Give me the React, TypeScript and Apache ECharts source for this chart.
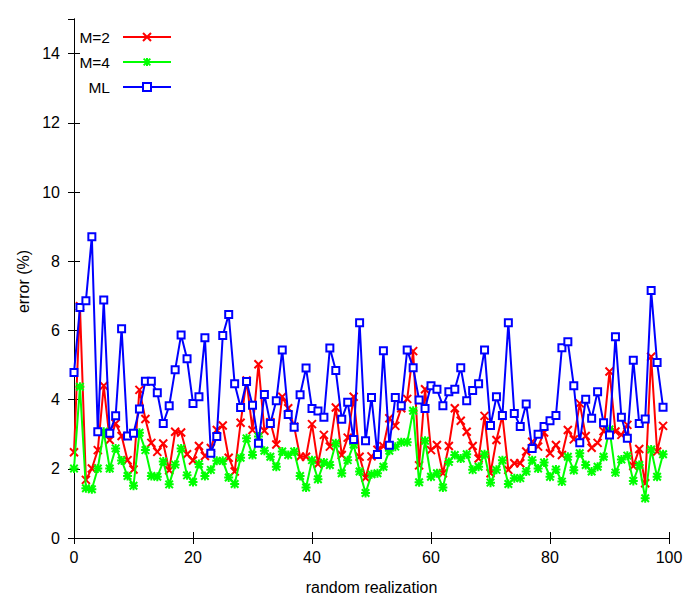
import React, { useEffect, useRef } from "react";
import * as echarts from "echarts";

const seriesNames = ["M=2", "M=4", "ML"];

const m2Values = [
  2.48, 6.7, 1.68, 2.01, 2.54, 4.4, 2.83, 3.31, 2.95, 2.25,
  1.98, 4.28, 3.44, 2.75, 2.49, 2.73, 1.96, 3.07, 3.05, 2.42,
  2.24, 2.66, 2.37, 2.6, 3.12, 3.25, 2.32, 1.92, 3.33, 4.55,
  3.12, 5.02, 3.1, 3.35, 2.7, 4.08, 3.75, 3.22, 2.35, 2.35,
  3.29, 2.14, 2.98, 2.64, 3.77, 2.4, 2.9, 4.08, 2.35, 1.74,
  2.36, 2.55, 2.65, 3.46, 3.24, 3.75, 4.02, 5.4, 2.1, 4.3,
  2.54, 2.69, 1.87, 2.66, 3.75, 3.39, 3.07, 2.66, 2.3, 3.53,
  1.87, 2.83, 3.53, 1.97, 2.16, 2.16, 2.5, 2.78, 2.64, 3.05,
  2.45, 2.69, 2.4, 3.12, 2.85, 3.89, 2.95, 2.61, 2.75, 3.09,
  4.81, 3.08, 2.98, 3.27, 2.08, 2.57, 1.58, 5.24, 2.5, 3.24,
];

const m4Values = [
  2.01, 4.37, 1.44, 1.41, 2.01, 3.07, 2.01, 2.59, 2.24, 1.79,
  1.51, 3.04, 2.54, 1.79, 1.77, 2.21, 1.55, 2.12, 2.59, 1.81,
  1.62, 2.14, 1.79, 1.97, 2.23, 2.23, 1.75, 1.56, 2.32, 2.88,
  2.4, 2.93, 2.52, 2.35, 2.06, 2.5, 2.4, 2.5, 1.79, 1.46,
  2.25, 1.7, 2.18, 2.11, 2.74, 1.87, 2.25, 2.7, 1.92, 1.3,
  1.84, 1.87, 2.06, 2.52, 2.64, 2.77, 2.77, 3.68, 1.61, 2.81,
  1.77, 1.87, 1.46, 2.2, 2.4, 2.3, 2.42, 1.97, 2.06, 2.42,
  1.6, 1.97, 2.25, 1.56, 1.73, 1.73, 1.92, 2.25, 2.01, 2.18,
  1.77, 1.98, 1.63, 2.35, 1.96, 2.45, 2.11, 1.92, 2.06, 2.35,
  3.14, 1.89, 2.27, 2.38, 1.65, 2.11, 1.15, 2.56, 1.77, 2.42,
];

const mlValues = [
  4.78, 6.66, 6.86, 8.71, 3.07, 6.88, 3.03, 3.53, 6.05, 2.95,
  3.03, 3.73, 4.53, 4.53, 4.2, 3.31, 3.82, 4.86, 5.87, 5.18,
  3.89, 4.08, 5.79, 2.45, 2.93, 5.85, 6.46, 4.46, 3.77, 4.52,
  3.84, 2.74, 4.15, 3.31, 3.97, 5.43, 3.57, 3.2, 4.14, 4.91,
  3.74, 3.67, 3.49, 5.49, 4.84, 3.43, 3.92, 2.85, 6.22, 2.81,
  4.06, 2.41, 5.41, 2.68, 4.06, 3.82, 5.43, 4.92, 3.99, 3.74,
  4.4, 4.3, 3.82, 4.23, 4.3, 4.92, 3.97, 4.26, 4.46, 5.43,
  3.25, 4.08, 3.54, 6.22, 3.6, 3.22, 3.87, 2.59, 3.0, 3.22,
  3.39, 3.54, 5.5, 5.67, 4.4, 2.75, 4.01, 3.46, 4.23, 3.33,
  2.98, 5.82, 3.49, 2.88, 5.14, 3.31, 3.44, 7.15, 5.07, 3.78,
];

const xTicks = { min: 0, max: 100, interval: 20 };
const yTicks = { min: 0, max: 15, interval: 2 };

const FONT = "'Liberation Sans', Arial, sans-serif";
const CROSS = "path://M0,0L10,10M10,0L0,10";
const STAR = "path://M0,0L10,10M10,0L0,10M5,-1L5,11M-1,5L11,5";

const toPairs = (vals: number[]) => vals.map((v, i) => [i, v]);

export default function App() {
  const ref = useRef<HTMLDivElement>(null);

  useEffect(() => {
    document.body.style.margin = "0";
    if (!ref.current) return;
    const chart = echarts.init(ref.current, null, { renderer: "svg" });

    const axisLine = { show: true, lineStyle: { color: "#000", width: 1 } };
    const axisTick = { show: true, inside: true, length: 6, lineStyle: { color: "#000", width: 1 } };
    const labelStyle = { fontSize: 16, color: "#000", fontFamily: FONT };

    chart.setOption({
      animation: false,
      backgroundColor: "#fff",
      grid: { left: 74, right: 31, top: 19, bottom: 62, containLabel: false },
      legend: {
        orient: "vertical",
        left: 74,
        top: 29,
        align: "right",
        itemWidth: 48,
        itemHeight: 10,
        itemGap: 9,
        padding: 0,
        data: seriesNames,
        textStyle: {
          fontSize: 15.5,
          color: "#000",
          fontFamily: FONT,
          width: 36,
          lineHeight: 10,
          align: "right",
          padding: [0, 8, 0, 0],
        },
      },
      xAxis: [
        {
          type: "value",
          position: "bottom",
          min: xTicks.min,
          max: xTicks.max,
          interval: xTicks.interval,
          axisLine,
          axisTick,
          splitLine: { show: false },
          axisLabel: { ...labelStyle, margin: 11 },
          name: "random realization",
          nameLocation: "middle",
          nameGap: 41,
          nameTextStyle: { ...labelStyle },
        },
        {
          type: "value",
          position: "top",
          min: xTicks.min,
          max: xTicks.max,
          interval: xTicks.interval,
          axisLine,
          axisTick,
          splitLine: { show: false },
          axisLabel: { show: false },
        },
      ],
      yAxis: [
        {
          type: "value",
          position: "left",
          min: yTicks.min,
          max: yTicks.max,
          interval: yTicks.interval,
          axisLine,
          axisTick,
          splitLine: { show: false },
          axisLabel: { ...labelStyle, margin: 14, showMaxLabel: false },
          name: "error (%)",
          nameLocation: "middle",
          nameGap: 43,
          nameRotate: 90,
          nameTextStyle: { ...labelStyle, padding: [0, 6, 0, 0] },
        },
        {
          type: "value",
          position: "right",
          min: yTicks.min,
          max: yTicks.max,
          interval: yTicks.interval,
          axisLine,
          axisTick,
          splitLine: { show: false },
          axisLabel: { show: false },
        },
      ],
      series: [
        {
          name: seriesNames[0],
          type: "line",
          data: toPairs(m2Values),
          color: "#ff0000",
          symbol: CROSS,
          symbolSize: 8,
          showAllSymbol: true,
          lineStyle: { color: "#ff0000", width: 2 },
          itemStyle: { color: "#ff0000", borderColor: "#ff0000", borderWidth: 2 },
          z: 2,
        },
        {
          name: seriesNames[1],
          type: "line",
          data: toPairs(m4Values),
          color: "#00ff00",
          symbol: STAR,
          symbolSize: 9,
          showAllSymbol: true,
          lineStyle: { color: "#00ff00", width: 2 },
          itemStyle: { color: "#00ff00", borderColor: "#00ff00", borderWidth: 2 },
          z: 3,
        },
        {
          name: seriesNames[2],
          type: "line",
          data: toPairs(mlValues),
          color: "#0000ff",
          symbol: "emptyRect",
          symbolSize: 7,
          showAllSymbol: true,
          lineStyle: { color: "#0000ff", width: 2 },
          itemStyle: { color: "#0000ff", borderColor: "#0000ff", borderWidth: 2 },
          z: 4,
        },
      ],
    });

    return () => chart.dispose();
  }, []);

  return (
    <div
      ref={ref}
      style={{ position: "absolute", left: 0, top: 0, width: 700, height: 600 }}
    />
  );
}
